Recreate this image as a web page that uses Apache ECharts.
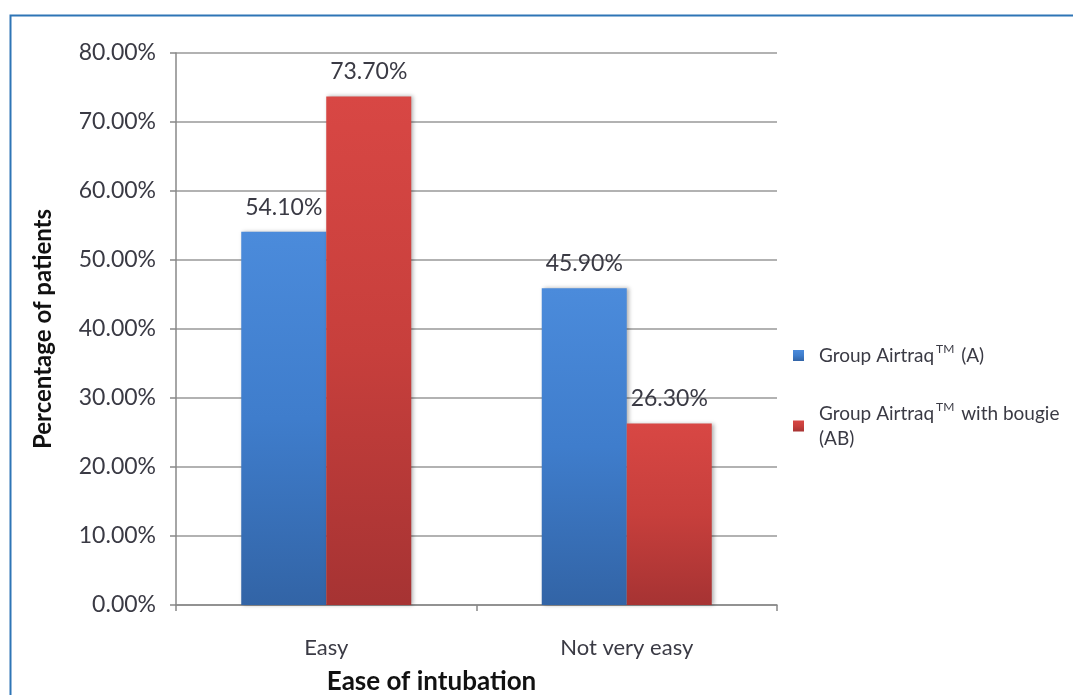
<!DOCTYPE html>
<html>
<head>
<meta charset="utf-8">
<script src="https://cdn.jsdelivr.net/npm/echarts@6/dist/echarts.min.js"></script>
<style>
  html, body { margin: 0; padding: 0; background: #fff; }
  #chart { width: 1073px; height: 695px; }
</style>
</head>
<body>
<div id="chart"></div>
<script>
// data
const categories = ['Easy', 'Not very easy'];
const groupA = [54.1, 45.9];
const groupAB = [73.7, 26.3];
const seriesNames = ['Group Airtraq™ (A)', 'Group Airtraq™ with bougie (AB)'];
const yTicks = [0, 10, 20, 30, 40, 50, 60, 70, 80];

const font = 'Lato, "Open Sans", sans-serif';
const textColor = '#3a3a44';
const chart = echarts.init(document.getElementById('chart'));

function barFill(top, mid, bottom) {
    return new echarts.graphic.LinearGradient(0, 0, 0, 1, [
        { offset: 0, color: top },
        { offset: 0.5, color: mid },
        { offset: 1, color: bottom }
    ]);
}

const legendLabel = {
    [seriesNames[0]]: '{t|Group Airtraq}{s|TM}{t| (A)}',
    [seriesNames[1]]: '{t|Group Airtraq}{s|TM}{t| with bougie}\n{t|(AB)}'
};

const option = {
    animation: false,
    grid: { left: 176, right: 296, top: 53, bottom: 90, containLabel: false, outerBoundsMode: 'none' },
    legend: {
        orient: 'vertical',
        left: 788,
        top: 338,
        itemWidth: 11,
        itemHeight: 11,
        itemGap: 36,
        icon: 'rect',
        data: seriesNames,
        formatter: name => legendLabel[name],
        textStyle: {
            fontFamily: font,
            color: textColor,
            padding: [0, 0, 0, 10],
            rich: {
                t: { fontSize: 19, fontFamily: font, color: textColor, lineHeight: 25 },
                s: { fontSize: 12, fontFamily: font, color: textColor, verticalAlign: 'top', padding: [0, 2, 10, 2] }
            }
        }
    },
    xAxis: {
        type: 'category',
        data: categories,
        name: 'Ease of intubation',
        nameLocation: 'middle',
        nameGap: 64,
        nameTextStyle: { fontFamily: font, fontSize: 26, fontWeight: 'bold', color: '#111', padding: [0, 0, 0, -90] },
        axisLine: { lineStyle: { color: '#888', width: 1.5 } },
        axisTick: { show: true, length: 6, lineStyle: { color: '#888', width: 1.5 } },
        axisLabel: { fontFamily: font, fontSize: 22, color: textColor, margin: 32 }
    },
    yAxis: {
        type: 'value',
        min: yTicks[0],
        max: yTicks[yTicks.length - 1],
        interval: 10,
        name: 'Percentage of patients',
        nameLocation: 'middle',
        nameGap: 121,
        nameTextStyle: { fontFamily: font, fontSize: 24, fontWeight: 'bold', color: '#111' },
        axisLine: { show: true, lineStyle: { color: '#888', width: 1.5 } },
        axisTick: { show: true, length: 6, lineStyle: { color: '#888', width: 1.5 } },
        splitLine: { lineStyle: { color: '#999', width: 1.5 } },
        axisLabel: {
            fontFamily: font, fontSize: 23, color: textColor, margin: 20,
            formatter: v => v.toFixed(2) + '%'
        }
    },
    series: [
        {
            name: seriesNames[0],
            type: 'bar',
            data: groupA,
            barWidth: 85,
            barGap: '0%',
            itemStyle: {
                color: barFill('#4b8bdb', '#3f7dcc', '#3264a6'),
                shadowColor: 'rgba(0,0,0,0.3)', shadowBlur: 4, shadowOffsetX: 2
            },
            label: {
                show: true, position: 'top', distance: 13,
                fontFamily: font, fontSize: 23, color: textColor,
                formatter: p => p.value.toFixed(2) + '%'
            }
        },
        {
            name: seriesNames[1],
            type: 'bar',
            data: groupAB,
            barWidth: 85,
            barGap: '0%',
            itemStyle: {
                color: barFill('#d84744', '#c73f3c', '#a63333'),
                shadowColor: 'rgba(0,0,0,0.3)', shadowBlur: 4, shadowOffsetX: 2
            },
            label: {
                show: true, position: 'top', distance: 13,
                fontFamily: font, fontSize: 23, color: textColor,
                formatter: p => p.value.toFixed(2) + '%'
            }
        }
    ],
    graphic: [
        {
            type: 'rect',
            left: 8, top: 13,
            shape: { width: 1100, height: 720 },
            style: { fill: 'none', stroke: '#2e75b6', lineWidth: 2 },
            silent: true
        }
    ]
};

chart.setOption(option);
</script>
</body>
</html>
